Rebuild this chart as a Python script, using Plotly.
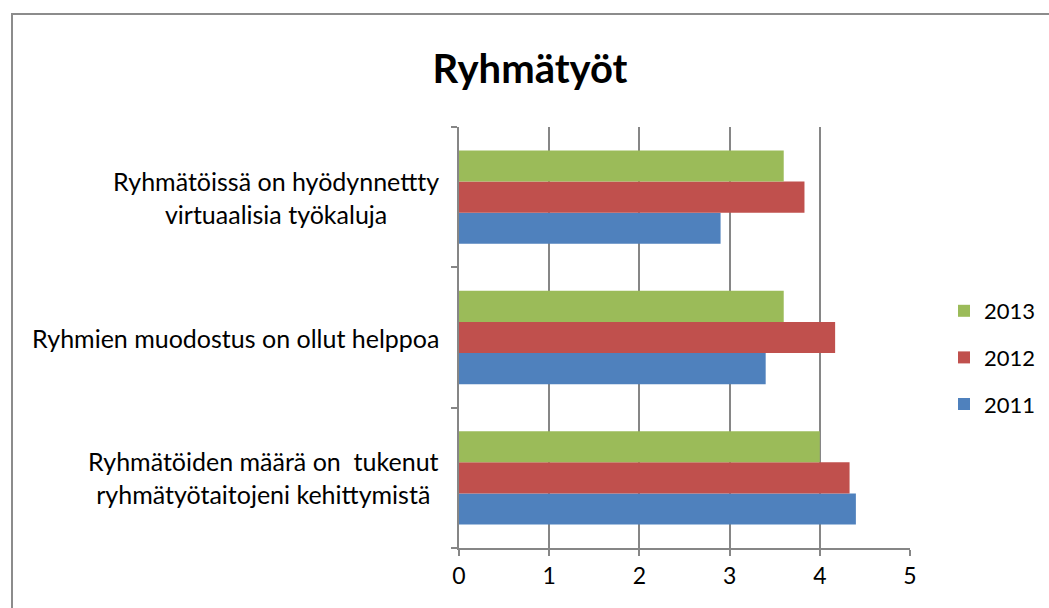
import plotly.graph_objects as go

# Kategoriat (alhaalta ylös) ja arvot
categories = [
    "Ryhmätöiden määrä on  tukenut<br>ryhmätyötaitojeni kehittymistä",
    "Ryhmien muodostus on ollut helppoa",
    "Ryhmätöissä on hyödynnettty<br>virtuaalisia työkaluja",
]
years = ["2011", "2012", "2013"]
v2011 = [4.4, 3.4, 2.9]
v2012 = [4.33, 4.17, 3.83]
v2013 = [4.0, 3.6, 3.6]
x_ticks = [0, 1, 2, 3, 4, 5]

colors = {"2011": "#4F81BD", "2012": "#C0504D", "2013": "#9BBB59"}
FONT = "Lato"

W, H = 1049, 608
L, R, T, B = 459, 139, 127, 60
pw, ph = W - L - R, H - T - B

fig = go.Figure()
for i, (yr, vals) in enumerate(zip(years, [v2011, v2012, v2013])):
    fig.add_trace(go.Bar(
        y=categories, x=vals, name=yr, orientation="h",
        legendgroup=yr, legendrank=10 - i,
        marker=dict(color=colors[yr], line=dict(width=0)),
    ))

# kategorioiden nimet keskitettyinä annotaatioina
for c in categories:
    fig.add_annotation(
        x=-0.04, xref="paper", y=c, yref="y",
        text=c, showarrow=False, xanchor="right", align="center",
        font=dict(family=FONT, size=25, color="#000"),
    )

# kaavion reunus
fig.add_shape(
    type="rect", xref="paper", yref="paper",
    x0=(12 - L) / pw, x1=2.0, y0=-1.0, y1=(H - B - 14) / ph,
    line=dict(color="#8c8c8c", width=2), layer="below",
)

fig.update_layout(
    width=W, height=H,
    margin=dict(l=L, r=R, t=T, b=B, autoexpand=False),
    paper_bgcolor="white", plot_bgcolor="white",
    barmode="group", bargap=0.335, bargroupgap=0,
    title=dict(text="<b>Ryhmätyöt</b>", x=530 / W, xanchor="center",
               y=1 - 69 / H, yanchor="middle",
               font=dict(family=FONT, size=40, color="#000")),
    legend=dict(x=(944 - L) / pw, xanchor="left", y=(H - B - 290) / ph, yanchor="top",
                traceorder="grouped", tracegroupgap=15,
                font=dict(family=FONT, size=22, color="#000"),
                bgcolor="rgba(0,0,0,0)"),
    font=dict(family=FONT, color="#000"),
)
fig.update_xaxes(
    range=[0, 5], tickvals=x_ticks, showgrid=True, gridcolor="#868686", gridwidth=2,
    zeroline=False, showline=True, linecolor="#868686", linewidth=2,
    ticks="outside", ticklen=6, tickcolor="#868686", tickwidth=2,
    tickfont=dict(family=FONT, size=23, color="#000"),
)
fig.update_yaxes(
    showticklabels=False, showgrid=False, zeroline=False,
    showline=True, linecolor="#868686", linewidth=2,
    ticks="outside", ticklen=6, tickcolor="#868686", tickwidth=2,
    tickson="boundaries",
)

fig.write_html("out.html", config={"displayModeBar": False},
               post_script="document.body.style.margin='0';")
